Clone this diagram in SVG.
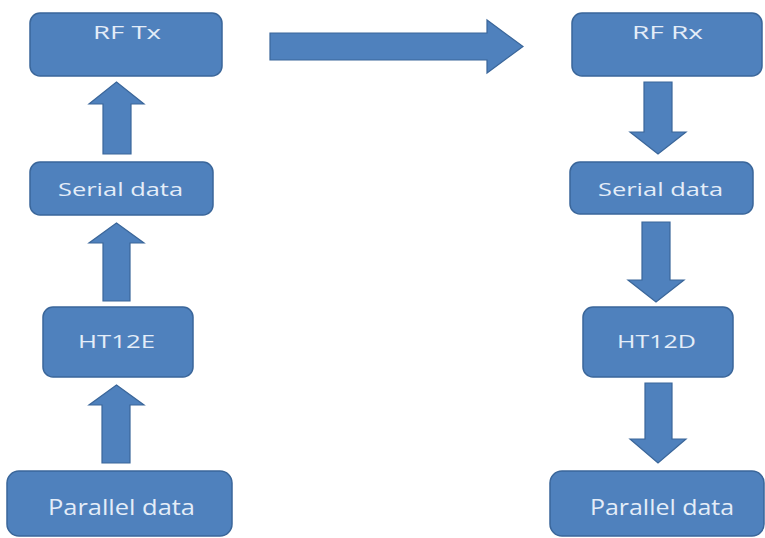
<svg xmlns="http://www.w3.org/2000/svg" width="765" height="538" viewBox="0 0 765 538">
<style>
.box{fill:#4f81bd;stroke:#3a669a;stroke-width:1.5}
.arr{fill:#4f81bd;stroke:#3a669a;stroke-width:1.2;stroke-linejoin:miter}
.lbl{font-family:"Open Sans","Liberation Sans",Arial,sans-serif;font-size:19px;fill:#e4edf8;text-anchor:middle}
.big{font-size:21px}
</style>
<rect width="765" height="538" fill="#ffffff"/>
<g id="connectors">
<polygon class="arr" points="103,154 103,104 89,104 116.5,82 144,104 131,104 131,154"/>
<polygon class="arr" points="103,301 103,243 89,243 116.5,223 144,243 130,243 130,301"/>
<polygon class="arr" points="102,463 102,405 89,405 116.5,385 144,405 130,405 130,463"/>
<polygon class="arr" points="270,33 487,33 487,20 523,46.5 487,73 487,60 270,60"/>
<polygon class="arr" points="644,82 672,82 672,132 686,132 658,154 630,132 644,132"/>
<polygon class="arr" points="642,222 670,222 670,280 684,280 656,302 628,280 642,280"/>
<polygon class="arr" points="645,383 672,383 672,439 686,439 658,463 630,439 645,439"/>
</g>
<g id="rf-tx">
<rect class="box" x="30" y="13" width="192" height="63" rx="10"/>
<text class="lbl" x="127" y="39" textLength="68" lengthAdjust="spacingAndGlyphs">RF  Tx</text>
</g>
<g id="serial-data-tx">
<rect class="box" x="30" y="162" width="183" height="53" rx="10"/>
<text class="lbl" x="120.5" y="196" textLength="125" lengthAdjust="spacingAndGlyphs">Serial data</text>
</g>
<g id="ht12e">
<rect class="box" x="43" y="307" width="150" height="70" rx="10"/>
<text class="lbl" x="116.5" y="348" textLength="77" lengthAdjust="spacingAndGlyphs">HT12E</text>
</g>
<g id="parallel-data-tx">
<rect class="box" x="7" y="471" width="225" height="65" rx="12"/>
<text class="lbl big" x="121.5" y="515" textLength="147" lengthAdjust="spacingAndGlyphs">Parallel data</text>
</g>
<g id="rf-rx">
<rect class="box" x="572" y="13" width="190" height="63" rx="10"/>
<text class="lbl" x="667.5" y="39" textLength="71" lengthAdjust="spacingAndGlyphs">RF  Rx</text>
</g>
<g id="serial-data-rx">
<rect class="box" x="570" y="162" width="183" height="52" rx="10"/>
<text class="lbl" x="660.5" y="196" textLength="125" lengthAdjust="spacingAndGlyphs">Serial data</text>
</g>
<g id="ht12d">
<rect class="box" x="583" y="307" width="150" height="70" rx="10"/>
<text class="lbl" x="656.5" y="348" textLength="79" lengthAdjust="spacingAndGlyphs">HT12D</text>
</g>
<g id="parallel-data-rx">
<rect class="box" x="550" y="471" width="214" height="65" rx="12"/>
<text class="lbl big" x="662" y="515" textLength="144" lengthAdjust="spacingAndGlyphs">Parallel data</text>
</g>
</svg>
